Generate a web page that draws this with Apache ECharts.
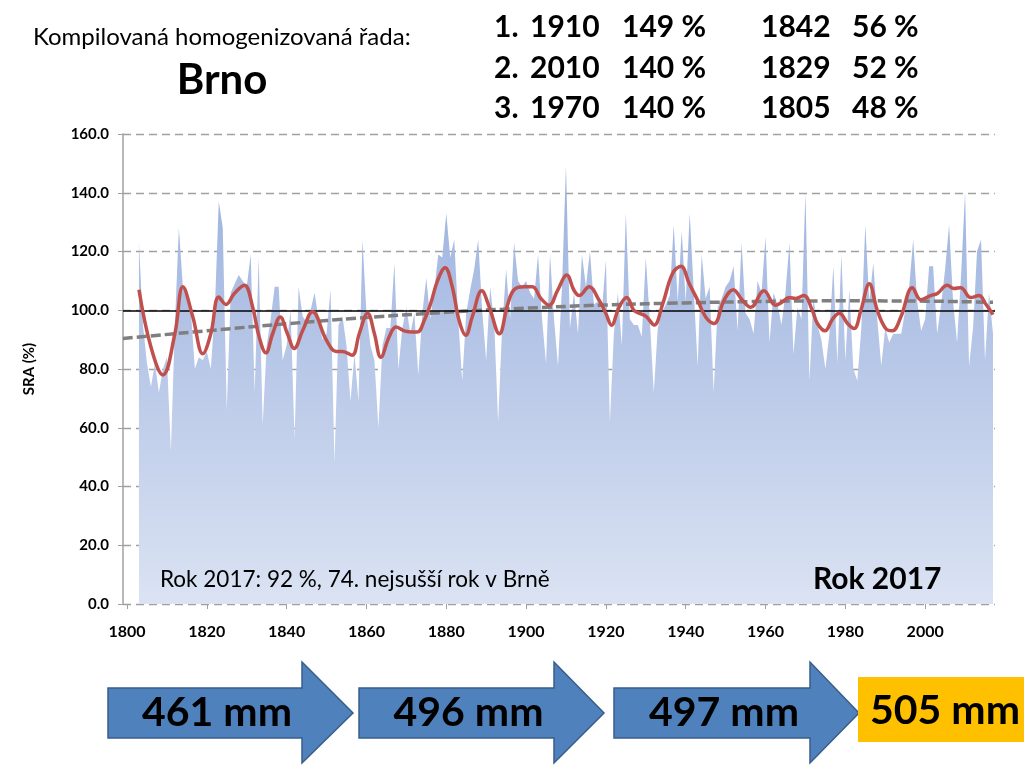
<!DOCTYPE html>
<html>
<head>
<meta charset="utf-8">
<script src="https://cdn.jsdelivr.net/npm/echarts@6/dist/echarts.min.js"></script>
<style>
html,body{margin:0;padding:0;background:#fff;}
#chart{width:1024px;height:768px;}
</style>
</head>
<body>
<div id="chart"></div>
<script>
// ---- data (SRA %, Brno, annual) ----
const firstYear = 1803;
const sra1803_1843 = [123,95,82,74,82,72,80,84,52,95,128,108,107,100,80,84,83,86,80,100,137,128,66,106,109,112,110,108,119,72,118,61,88,97,108,108,83,88,100,56,108];
const sra1844_1887 = [98,96,100,106,97,90,92,107,48,95,98,88,69,85,69,124,99,88,83,60,88,94,94,116,80,94,101,92,99,78,99,111,97,107,119,118,133,118,124,97,76,99,107,114];
const sra1888_1929 = [124,100,83,108,96,62,94,114,97,123,110,108,110,106,104,119,97,82,119,97,81,108,149,94,106,92,119,108,120,102,103,100,117,62,92,106,88,133,97,95,95,91];
const sra1930_1972 = [118,97,72,94,99,102,105,129,103,127,103,133,107,81,119,104,108,72,101,104,108,110,115,93,123,99,97,92,110,106,125,89,106,102,95,106,123,85,101,97,140,76,104];
const sra1973_2017 = [95,90,80,92,115,82,119,83,107,80,76,94,129,103,116,97,81,94,89,92,92,92,100,108,124,103,93,97,115,115,92,102,114,129,103,89,112,140,81,94,120,124,83,106,92];

// smoothed (red) curve: [year, value]
const smoothPts = [[1803,107],[1806,87.5],[1809,78],[1812,92],[1814,108],[1816.5,97.7],[1819,85.2],[1821,92],[1823,104.5],[1824.8,102],[1826.9,105.7],[1829.4,108.5],[1831.5,101],[1833.1,91],[1834.8,85.5],[1836.5,92],[1838.4,97.7],[1840.2,92],[1841.9,87],[1844,93],[1846.5,99.5],[1849.9,90],[1852.4,86],[1854,86],[1856.4,84.7],[1858.2,92],[1860.3,99],[1862,92],[1863.6,84],[1865.7,91],[1867.4,94.3],[1869.5,93],[1871.5,92.6],[1872.8,92.6],[1874.5,96.6],[1876.1,102.3],[1877.8,110],[1879.7,114.5],[1881.5,108],[1883.2,96.6],[1884.9,91.5],[1886.5,97.7],[1888.9,106.6],[1890.8,101],[1893.3,92],[1895.4,102],[1897,107],[1899.5,108],[1901.6,108],[1903.7,104],[1905.8,101.7],[1907.9,106.8],[1910.2,112],[1912,106.8],[1913.3,105],[1915.8,108],[1918.3,103.4],[1920,98.9],[1921.4,94.9],[1923.3,101],[1925.2,104.3],[1927,100],[1928.3,99],[1930,98],[1932.1,95],[1934.2,102],[1936.7,112.5],[1938.8,115],[1940.9,109],[1943,103.4],[1945,97.7],[1947.1,95.5],[1949.6,103.4],[1951.9,107],[1954.2,103.4],[1956.3,101],[1959.6,106.6],[1962.5,101.7],[1964.2,102.8],[1965.9,104.3],[1967.55,104],[1969.6,105],[1971.7,100],[1973,95.5],[1974.9,93],[1976.8,97],[1978.5,99],[1980.55,95.5],[1982.2,93.8],[1983.9,100],[1986,109],[1988,100],[1990.1,93.8],[1991.8,93],[1993.9,97.7],[1996.8,107.7],[1998.9,103.6],[2001.4,105],[2003.05,105.7],[2005.55,108.5],[2007.2,107.4],[2008.9,107.7],[2011.4,104.3],[2013.5,105],[2015.1,102.3],[2017,98.5]];

// polynomial trend (grey dashed)
const trendPts = [[1799,90.4],[1820,93],[1840,95.4],[1860,97.5],[1880,99.3],[1900,100.7],[1920,101.8],[1940,102.5],[1960,103],[1980,103.2],[2000,103.1],[2017,102.7]];

const xTicks = [1800,1820,1840,1860,1880,1900,1920,1940,1960,1980,2000];
const refLevel = 100;

const rankTop = [["1.","1910","149 %"],["2.","2010","140 %"],["3.","1970","140 %"]];
const rankLow = [["1842","56 %"],["1829","52 %"],["1805","48 %"]];
const periodMeans = ["461 mm","496 mm","497 mm"];
const lastMean = "505 mm";

// ---- build ----
const sraValues = [].concat(sra1803_1843, sra1844_1887, sra1888_1929, sra1930_1972, sra1973_2017);
const areaData = sraValues.map((v, i) => [firstYear + i, v]);

const FONT = "Lato, 'Open Sans', sans-serif";

const graphics = [];
function txt(text, x, y, size, weight, align) {
  graphics.push({
    type: 'text', x: x, y: y, z: 100,
    style: {
      text: text, fill: '#000',
      font: (weight || 'normal') + ' ' + size + 'px ' + FONT,
      align: align || 'left', verticalAlign: 'middle',
      textAlign: align || 'left', textVerticalAlign: 'middle'
    }
  });
}
txt('Kompilovaná homogenizovaná řada:', 33, 37, 24, 'normal');
txt('Brno', 222, 80, 42, 'bold', 'center');
const rowY = [27, 68, 108];
rankTop.forEach((r, i) => {
  txt(r[0], 494, rowY[i], 30, 'bold');
  txt(r[1], 530, rowY[i], 30, 'bold');
  txt(r[2], 622, rowY[i], 30, 'bold');
});
rankLow.forEach((r, i) => {
  txt(r[0], 761, rowY[i], 30, 'bold');
  txt(r[1], 852, rowY[i], 30, 'bold');
});
txt('Rok 2017: 92 %, 74. nejsušší rok v Brně', 160, 580, 22.5, 'normal');
txt('Rok 2017', 813, 579, 30, 'bold');

// arrows
const arrowX = [[108, 302, 353], [359, 554, 604], [614, 810, 859]];
arrowX.forEach((a, i) => {
  graphics.push({
    type: 'polygon', z: 90,
    shape: { points: [[a[0], 688], [a[1], 688], [a[1], 662], [a[2], 713], [a[1], 763], [a[1], 738], [a[0], 738]] },
    style: { fill: '#4f81bd', stroke: '#385d8a', lineWidth: 1.5 }
  });
  txt(periodMeans[i], (a[0] + a[1]) / 2 + 12, 713, 41, 'bold', 'center');
});
graphics.push({ type: 'rect', z: 90, shape: { x: 858, y: 677, width: 170, height: 65 }, style: { fill: '#ffc000' } });
txt(lastMean, 945, 711, 41, 'bold', 'center');

const chart = echarts.init(document.getElementById('chart'), null, { renderer: 'canvas' });
chart.setOption({
  animation: false,
  backgroundColor: '#fff',
  grid: { left: 123, right: 1024 - 995, top: 134, bottom: 164, containLabel: false },
  xAxis: {
    type: 'value', min: 1799, max: 2017.5,
    axisLine: { show: false },
    axisTick: { show: true, customValues: xTicks, length: 5, lineStyle: { color: '#a0a0a0' } },
    axisLabel: { customValues: xTicks, formatter: v => String(v), margin: 20, color: '#000', fontFamily: FONT, fontWeight: 'bold', fontSize: 16 },
    splitLine: { show: false }
  },
  yAxis: {
    type: 'value', min: 0, max: 160, interval: 20,
    name: 'SRA (%)', nameLocation: 'middle', nameGap: 86, nameRotate: 90,
    nameTextStyle: { color: '#000', fontFamily: FONT, fontWeight: 'bold', fontSize: 15 },
    axisLine: { show: true, lineStyle: { color: '#a0a0a0', width: 1.5 } },
    axisTick: { show: true, length: 5, lineStyle: { color: '#a0a0a0' } },
    axisLabel: { formatter: v => v.toFixed(1), margin: 14, color: '#000', fontFamily: FONT, fontWeight: 'bold', fontSize: 15 },
    splitLine: { show: true, lineStyle: { color: '#a0a0a0', width: 1.4, type: [8, 5] } }
  },
  series: [
    {
      type: 'line', data: areaData, showSymbol: false, symbol: 'none', z: 1,
      lineStyle: { width: 0 },
      areaStyle: {
        opacity: 1,
        color: new echarts.graphic.LinearGradient(0, 0, 0, 1, [
          { offset: 0, color: '#9bb1de' },
          { offset: 1, color: '#dbe3f3' }
        ])
      },
      silent: true
    },
    {
      type: 'line', data: [], z: 3,
      markLine: {
        silent: true, symbol: 'none', label: { show: false },
        lineStyle: { color: '#000', width: 1.5, type: 'solid' },
        data: [{ yAxis: refLevel }]
      }
    },
    {
      type: 'line', data: trendPts, smooth: true, showSymbol: false, symbol: 'none', z: 4,
      lineStyle: { color: '#7f7f7f', width: 3.5, type: [10, 4] }
    },
    {
      type: 'line', data: smoothPts, smooth: 0.4, showSymbol: false, symbol: 'none', z: 5,
      lineStyle: { color: '#c0504d', width: 3.5 }
    }
  ],
  graphic: graphics
});
</script>
</body>
</html>
